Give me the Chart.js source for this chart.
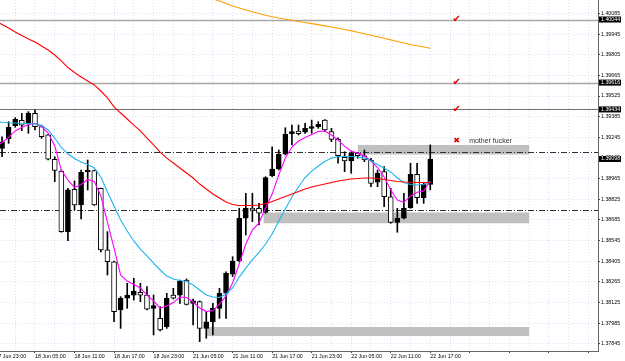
<!DOCTYPE html>
<html>
<head>
<meta charset="utf-8">
<script src="https://cdn.jsdelivr.net/npm/chart.js@4.4.1/dist/chart.umd.min.js"></script>
<style>
  html, body { margin: 0; padding: 0; background: #fff; }
  canvas { display: block; }
</style>
</head>
<body>
<canvas id="chart" width="625" height="361"></canvas>
<script>
// H1 bars, index 0 = 17 Jun 23:00 ... index 66 = 22 Jun 17:00 (weekend skipped)
const timeLabels = ['17 Jun 23:00', '18 Jun 05:00', '18 Jun 11:00', '18 Jun 17:00', '18 Jun 23:00', '21 Jun 05:00',
  '21 Jun 11:00', '21 Jun 17:00', '21 Jun 23:00', '22 Jun 05:00', '22 Jun 11:00', '22 Jun 17:00'];

const open = [1.39159, 1.39170, 1.39236, 1.39324, 1.39360, 1.39340, 1.39408, 1.39317, 1.39261, 1.39096,
  1.39016, 1.38605, 1.38892, 1.38786, 1.39010, 1.39019, 1.38899, 1.38481, 1.38401, 1.38074,
  1.38153, 1.38175, 1.38194, 1.38175, 1.38085, 1.38017, 1.37960, 1.38175, 1.38175, 1.38277,
  1.38119, 1.38130, 1.37949, 1.37994, 1.38085, 1.38187, 1.38316, 1.38406, 1.38696, 1.38763,
  1.38763, 1.38736, 1.38985, 1.39030, 1.39130, 1.39269, 1.39288, 1.39279, 1.39306, 1.39317,
  1.39362, 1.39283, 1.39231, 1.39109, 1.39084, 1.39136, 1.39120, 1.39091, 1.38940, 1.39012,
  1.38842, 1.38668, 1.38696, 1.38767, 1.38994, 1.38835, 1.38926];
const high = [1.39227, 1.39249, 1.39351, 1.39378, 1.39408, 1.39419, 1.39430, 1.39328, 1.39265, 1.39113,
  1.39023, 1.38899, 1.38949, 1.39023, 1.39091, 1.39023, 1.38901, 1.38605, 1.38406, 1.38164,
  1.38255, 1.38289, 1.38255, 1.38232, 1.38175, 1.38096, 1.38187, 1.38221, 1.38277, 1.38284,
  1.38148, 1.38135, 1.38062, 1.38119, 1.38221, 1.38333, 1.38435, 1.38763, 1.38865, 1.38865,
  1.38797, 1.38978, 1.39181, 1.39159, 1.39310, 1.39328, 1.39328, 1.39340, 1.39362, 1.39351,
  1.39366, 1.39306, 1.39242, 1.39147, 1.39147, 1.39143, 1.39159, 1.39103, 1.39023, 1.39046,
  1.38899, 1.38763, 1.38865, 1.39069, 1.39069, 1.38940, 1.39193];
const low = [1.39138, 1.39113, 1.39204, 1.39313, 1.39290, 1.39272, 1.39295, 1.39238, 1.39091, 1.38944,
  1.38601, 1.38544, 1.38752, 1.38691, 1.38888, 1.38783, 1.38467, 1.38311, 1.37994, 1.37949,
  1.38085, 1.38141, 1.38130, 1.38074, 1.37904, 1.37931, 1.37949, 1.38148, 1.38119, 1.38108,
  1.37972, 1.37859, 1.37882, 1.37904, 1.38017, 1.38017, 1.38300, 1.38401, 1.38582, 1.38673,
  1.38650, 1.38730, 1.38978, 1.39023, 1.39125, 1.39193, 1.39261, 1.39272, 1.39272, 1.39306,
  1.39283, 1.39215, 1.39069, 1.39012, 1.39001, 1.39103, 1.39080, 1.38910, 1.38910, 1.38774,
  1.38662, 1.38601, 1.38691, 1.38763, 1.38797, 1.38797, 1.38888];
const close = [1.39200, 1.39215, 1.39313, 1.39367, 1.39328, 1.39408, 1.39317, 1.39249, 1.39096, 1.39021,
  1.38605, 1.38888, 1.38786, 1.39008, 1.39021, 1.38786, 1.38481, 1.38401, 1.38062, 1.38153,
  1.38175, 1.38202, 1.38175, 1.38080, 1.38103, 1.37938, 1.38153, 1.38153, 1.38270, 1.38112,
  1.38135, 1.37949, 1.37994, 1.38085, 1.38187, 1.38323, 1.38406, 1.38696, 1.38763, 1.38752,
  1.38730, 1.38971, 1.39030, 1.39130, 1.39265, 1.39283, 1.39269, 1.39306, 1.39317, 1.39333,
  1.39295, 1.39231, 1.39120, 1.39084, 1.39136, 1.39120, 1.39091, 1.38933, 1.39001, 1.38842,
  1.38668, 1.38696, 1.38763, 1.38994, 1.38835, 1.38926, 1.39098];

// moving averages
const maFast = [1.39179, 1.39210, 1.39244, 1.39288, 1.39311, 1.39332, 1.39339, 1.39318, 1.39274, 1.39186,
  1.39023, 1.38955, 1.38905, 1.38925, 1.38959, 1.38945, 1.38847, 1.38670, 1.38494, 1.38311,
  1.38270, 1.38247, 1.38223, 1.38175, 1.38135, 1.38087, 1.38101, 1.38124, 1.38162, 1.38158,
  1.38128, 1.38087, 1.38063, 1.38070, 1.38114, 1.38169, 1.38257, 1.38386, 1.38521, 1.38616,
  1.38664, 1.38765, 1.38860, 1.38989, 1.39104, 1.39179, 1.39220, 1.39244, 1.39264, 1.39284,
  1.39288, 1.39261, 1.39227, 1.39183, 1.39152, 1.39136, 1.39118, 1.39084, 1.39040, 1.38976,
  1.38888, 1.38820, 1.38803, 1.38847, 1.38872, 1.38881, 1.38949];
const maMid = [1.39349, 1.39347, 1.39344, 1.39342, 1.39340, 1.39339, 1.39336, 1.39325, 1.39295, 1.39240,
  1.39176, 1.39132, 1.39101, 1.39077, 1.39061, 1.39037, 1.38976, 1.38874, 1.38779, 1.38684,
  1.38609, 1.38542, 1.38487, 1.38440, 1.38392, 1.38345, 1.38304, 1.38284, 1.38274, 1.38267,
  1.38243, 1.38209, 1.38175, 1.38162, 1.38158, 1.38182, 1.38223, 1.38297, 1.38358, 1.38413,
  1.38464, 1.38521, 1.38589, 1.38677, 1.38759, 1.38840, 1.38908, 1.38972, 1.39016, 1.39050,
  1.39081, 1.39104, 1.39113, 1.39115, 1.39115, 1.39111, 1.39104, 1.39084, 1.39061, 1.39037,
  1.39010, 1.38969, 1.38938, 1.38925, 1.38921, 1.38925, 1.38944];
const maSlow = [1.40034, 1.40010, 1.39986, 1.39959, 1.39936, 1.39912, 1.39891, 1.39864, 1.39837, 1.39803,
  1.39763, 1.39718, 1.39685, 1.39654, 1.39627, 1.39600, 1.39559, 1.39512, 1.39451, 1.39410,
  1.39369, 1.39328, 1.39288, 1.39240, 1.39193, 1.39145, 1.39104, 1.39071, 1.39037, 1.39003,
  1.38969, 1.38928, 1.38894, 1.38860, 1.38833, 1.38806, 1.38789, 1.38782, 1.38782, 1.38782,
  1.38786, 1.38796, 1.38810, 1.38827, 1.38843, 1.38860, 1.38877, 1.38894, 1.38908, 1.38918,
  1.38928, 1.38938, 1.38949, 1.38955, 1.38962, 1.38966, 1.38969, 1.38969, 1.38966, 1.38959,
  1.38952, 1.38945, 1.38942, 1.38940, 1.38938, 1.38938, 1.38938];
const maHtf = [null, null, null, null, null, null, null, null, null, null,
  null, null, null, null, null, null, null, null, null, null,
  null, null, null, null, null, null, null, null, null, null,
  1.40231, 1.40214, 1.40199, 1.40184, 1.40170, 1.40153, 1.40136, 1.40122, 1.40109, 1.40096,
  1.40085, 1.40073, 1.40063, 1.40054, 1.40046, 1.40039, 1.40031, 1.40024, 1.40016, 1.40009,
  1.40001, 1.39993, 1.39985, 1.39976, 1.39967, 1.39958, 1.39947, 1.39937, 1.39927, 1.39917,
  1.39906, 1.39895, 1.39885, 1.39875, 1.39866, 1.39858, 1.39849];

const priceTicks = [1.37845, 1.37985, 1.38125, 1.38265, 1.38405, 1.38545, 1.38685, 1.38825, 1.38965,
  1.39105, 1.39245, 1.39385, 1.39525, 1.39665, 1.39805, 1.39945, 1.40085];

// drawn objects
const hLines = [1.40044, 1.39616, 1.39434];
const dashLines = [1.39143, 1.38750];
const zoneFrom = [55, 40.7, 32.1];
const zoneTo = [81, 81, 81];
const zoneTop = [1.39193, 1.38735, 1.37958];
const zoneBottom = [1.39128, 1.38662, 1.37897];
const axisMarks = [1.40044, 1.39616, 1.39434, 1.39098];
const checkPrices = [1.40044, 1.39616, 1.39434];
const crossPrice = 1.39220;
const noteText = 'mother fucker';

const AXIS_FONT = { family: 'Liberation Sans', size: 5.3 };
const GRID = 'rgba(200,200,236,0.6)';

const gridIdx = [];
for (let i = 0; i <= 90; i += 3) gridIdx.push(i);

const noPad = s => { s.paddingLeft = 0; s.paddingRight = 0; s.paddingTop = 0; s.paddingBottom = 0; };

const objects = {
  id: 'objects',
  beforeDatasetsDraw(chart) {
    const { ctx, chartArea: a, scales: { x, y } } = chart;
    ctx.save();
    ctx.beginPath();
    ctx.rect(a.left, a.top, a.right - a.left, a.bottom - a.top);
    ctx.clip();
    ctx.fillStyle = '#c0c0c0';
    zoneFrom.forEach((f, i) => {
      const x1 = x.getPixelForValue(f), x2 = x.getPixelForValue(zoneTo[i]);
      const y1 = y.getPixelForValue(zoneTop[i]), y2 = y.getPixelForValue(zoneBottom[i]);
      ctx.fillRect(x1, y1, x2 - x1, y2 - y1);
    });
    hLines.forEach((p, i) => {
      const py = Math.round(y.getPixelForValue(p));
      ctx.strokeStyle = i < 2 ? '#a8a8a8' : '#707070';
      ctx.lineWidth = i < 2 ? 1.5 : 1;
      ctx.beginPath();
      ctx.moveTo(a.left, py + 0.5);
      ctx.lineTo(a.right, py + 0.5);
      ctx.stroke();
    });
    ctx.strokeStyle = '#303030';
    ctx.lineWidth = 1;
    ctx.setLineDash([6, 2, 1, 2]);
    dashLines.forEach(p => {
      const py = Math.round(y.getPixelForValue(p)) + 0.5;
      ctx.beginPath();
      ctx.moveTo(a.left, py);
      ctx.lineTo(a.right, py);
      ctx.stroke();
    });
    ctx.restore();
  },
  afterDraw(chart) {
    const { ctx, chartArea: a, scales: { x, y } } = chart;
    ctx.save();
    // labels on the price axis
    ctx.font = '5.3px "Liberation Sans"';
    ctx.textBaseline = 'middle';
    axisMarks.forEach(p => {
      const py = y.getPixelForValue(p);
      ctx.fillStyle = '#000';
      ctx.fillRect(a.right + 1, py - 3, 22, 6);
      ctx.fillStyle = '#fff';
      ctx.fillText(p.toFixed(5), a.right + 3, py);
    });
    // check marks / cross / note
    ctx.fillStyle = '#e00000';
    ctx.textAlign = 'center';
    ctx.font = '10px "DejaVu Sans"';
    checkPrices.forEach(p => {
      ctx.fillText('\u2714', x.getPixelForValue(70), y.getPixelForValue(p));
    });
    ctx.font = '8px "DejaVu Sans"';
    ctx.fillText('\u2716', x.getPixelForValue(70), y.getPixelForValue(crossPrice));
    ctx.textAlign = 'left';
    ctx.fillStyle = '#333';
    ctx.font = '7px "Liberation Sans"';
    ctx.fillText(noteText, x.getPixelForValue(71.9), y.getPixelForValue(crossPrice));
    ctx.restore();
  }
};

const idx = open.map((_, i) => i);
const bull = open.map((o, i) => close[i] >= o);
const line = (arr, color) => ({
  type: 'line',
  data: arr.map((v, i) => ({ x: i, y: v })),
  borderColor: color,
  borderWidth: 1.1,
  pointRadius: 0,
  tension: 0,
  order: 0
});

new Chart(document.getElementById('chart'), {
  type: 'bar',
  data: {
    datasets: [
      line(maHtf, '#ffa000'),
      line(maSlow, '#ff0000'),
      line(maMid, '#1eb4ec'),
      line(maFast, '#ff00ff'),
      {
        data: idx.map(i => ({ x: i, y: [open[i], close[i]] })),
        backgroundColor: bull.map(b => b ? '#000' : '#fff'),
        borderColor: '#000',
        borderWidth: 1,
        borderSkipped: false,
        barThickness: 5,
        minBarLength: 1,
        grouped: false,
        order: 1
      },
      {
        data: idx.map(i => ({ x: i, y: [low[i], high[i]] })),
        backgroundColor: '#000',
        borderWidth: 0,
        barThickness: 1,
        grouped: false,
        order: 2
      }
    ]
  },
  options: {
    responsive: false,
    animation: false,
    devicePixelRatio: 1,
    layout: { padding: 0, autoPadding: false },
    plugins: { legend: { display: false }, tooltip: { enabled: false } },
    scales: {
      x: {
        type: 'linear',
        min: 0.69,
        max: 91.46,
        offset: false,
        afterBuildTicks: s => { s.ticks = gridIdx.map(v => ({ value: v })); },
        afterFit: s => { s.height = 10; noPad(s); },
        ticks: {
          autoSkip: false,
          maxRotation: 0,
          align: 'start',
          padding: 0,
          color: '#000',
          font: AXIS_FONT,
          callback: v => (v % 6 === 0 && timeLabels[v / 6]) ? timeLabels[v / 6] : ''
        },
        grid: {
          offset: false,
          color: GRID,
          lineWidth: 1,
          tickLength: 2,
          tickColor: c => (c.tick && c.tick.value % 6 === 0) ? '#444' : 'rgba(0,0,0,0)'
        },
        border: { display: true, color: '#666', dash: [1, 2] }
      },
      y: {
        position: 'right',
        min: 1.377955,
        max: 1.401763,
        afterBuildTicks: s => { s.ticks = priceTicks.map(v => ({ value: v })); },
        afterFit: s => { s.width = 27; noPad(s); },
        ticks: {
          autoSkip: false,
          padding: 1,
          color: '#000',
          font: AXIS_FONT,
          callback: v => v.toFixed(5)
        },
        grid: { color: GRID, lineWidth: 1, tickLength: 2, tickColor: '#444' },
        border: { display: true, color: '#666', dash: [1, 2] }
      }
    }
  },
  plugins: [objects]
});
</script>
</body>
</html>
